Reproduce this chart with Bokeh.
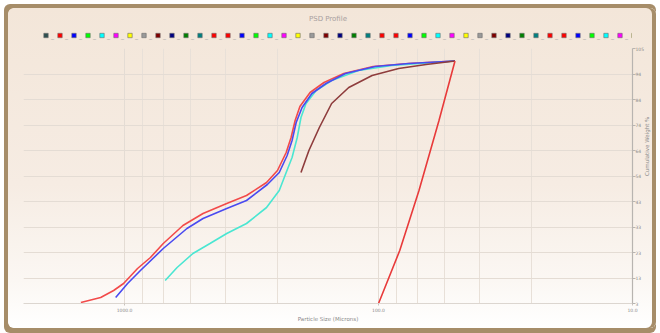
import math
from bokeh.plotting import figure
from bokeh.layouts import column
from bokeh.models import (Range1d, FixedTicker, PrintfTickFormatter, CustomJSTickFormatter,
                          Legend, LegendItem)
from bokeh.embed import file_html
from bokeh.resources import INLINE

# ---- data: particle size (microns) vs cumulative weight % ----
s1_size = [1486, 1242, 1104, 1009, 889, 791, 704, 589, 491, 396, 331, 276, 250, 231, 221, 213, 204, 186, 164, 137, 105, 76, 50]
s1_pct = [3.4, 5.4, 8.2, 11, 17, 21.4, 27, 34.2, 39, 43, 46.2, 51.4, 56.2, 63.4, 69.4, 76.2, 81.8, 87.4, 91.4, 95, 97.8, 99, 100]

s2_size = [1084, 973, 866, 704, 568, 491, 396, 331, 274, 246, 229, 219, 211, 200, 183, 161, 135, 103, 76, 50]
s2_pct = [5.4, 11, 16.2, 25, 33, 37, 41, 44.2, 50.6, 55.4, 62.2, 68.2, 75.4, 81.4, 87, 91, 95, 97.8, 99, 100]

s3_size = [692, 621, 538, 461, 396, 331, 276, 246, 231, 219, 209, 202, 193, 176, 153, 120, 88.8, 50]
s3_pct = [12.2, 17.4, 23, 27, 31, 35, 41.4, 48.2, 55.4, 61.4, 69.4, 77.4, 83, 88.2, 92.2, 96.2, 98.2, 100]

s4_size = [202, 188, 171, 153, 131, 106, 83.3, 65, 50]
s4_pct = [55.4, 64.2, 73.4, 83, 89.4, 94.2, 97, 98.6, 100]

s5_size = [50, 57.8, 69.3, 82.5, 100]
s5_pct = [100, 76.2, 48.2, 24.2, 3]

curve_colors = ["#F24A4A", "#4A4AF0", "#4AE6D2", "#8E3C3C", "#E83A3A"]

x_ticks = [1000, 100, 10]
x_minor = [850, 700, 550, 400, 250, 85, 70, 55, 40, 25]
y_ticks = [3, 13.2, 23.4, 33.6, 43.8, 54, 64.2, 74.4, 84.6, 94.8, 105]

legend_base = ["#FF0000", "#0000FF", "#00FF00", "#00FFFF", "#FF00FF", "#FFFF00",
               "#999999", "#800000", "#000080", "#008000", "#008080", "#FF0000"]
legend_colors = ["#2F4F4F"] + (legend_base * 4)[:44]

FONT = "DejaVu Sans"

# ---- header figure: title + series legend ----
hdr = figure(width=648, height=36, x_range=Range1d(0, 1), y_range=Range1d(0, 1),
             x_axis_location=None, y_axis_location=None,
             output_backend="svg", toolbar_location=None, title="PSD Profile",
             min_border_left=0, min_border_right=0, min_border_top=16, min_border_bottom=0)
hdr.border_fill_color = None
hdr.background_fill_color = None
hdr.outline_line_color = None
hdr.grid.visible = False
hdr.title.align = "center"
hdr.title.text_font = FONT
hdr.title.text_font_size = "7px"
hdr.title.text_font_style = "normal"
hdr.title.text_color = "#A8A0A0"
hdr.title.standoff = 4

items = []
nan = float("nan")
for c in legend_colors:
    r = hdr.scatter(x=[nan], y=[nan], marker="square", fill_color=c,
                    line_color="#6A6A6A", line_width=0.6)
    items.append(LegendItem(label="_", renderers=[r]))

legend = Legend(items=items, orientation="horizontal", location=(17, 3),
                ncols=len(items), nrows=1,
                glyph_width=11, glyph_height=12, label_standoff=-3, spacing=0,
                label_width=0, label_height=12, padding=0, margin=0,
                label_text_font=FONT, label_text_font_size="6px",
                label_text_color="#A0A0A0",
                background_fill_alpha=0, border_line_color=None)
hdr.add_layout(legend, "center")

# ---- main figure ----
p = figure(width=648, height=284, x_axis_type="log",
           x_range=Range1d(2500, 10), y_range=Range1d(3, 105),
           y_axis_location="right", output_backend="svg", toolbar_location=None,
           min_border_left=15, min_border_right=20, min_border_top=4, min_border_bottom=25)
p.border_fill_color = None
p.background_fill_color = None
p.outline_line_color = None

# x axis
xa = p.xaxis[0]
xa.ticker = FixedTicker(ticks=x_ticks, minor_ticks=x_minor)
xa.formatter = PrintfTickFormatter(format="%.1f")
xa.axis_label = "Particle Size (Microns)"
xa.axis_label_text_font = FONT
xa.axis_label_text_font_size = "5.5px"
xa.axis_label_text_font_style = "normal"
xa.axis_label_text_color = "#8A8A8A"
xa.axis_label_standoff = 1
xa.major_label_text_font = FONT
xa.major_label_text_font_size = "4.5px"
xa.major_label_text_color = "#8A8A8A"
xa.major_label_standoff = 0
xa.axis_line_color = "#DCD6D0"
xa.major_tick_line_color = "#C8C2BC"
xa.major_tick_out = 2
xa.major_tick_in = 0
xa.minor_tick_line_color = None

# y axis (right)
ya = p.yaxis[0]
ya.ticker = FixedTicker(ticks=y_ticks)
ya.formatter = CustomJSTickFormatter(code="return String(Math.floor(tick + 1e-9));")
ya.axis_label = "Cumulative Weight %"
ya.axis_label_text_font = FONT
ya.axis_label_text_font_size = "5.5px"
ya.axis_label_text_font_style = "normal"
ya.axis_label_text_color = "#8A8A8A"
ya.axis_label_standoff = 0
ya.major_label_text_font = FONT
ya.major_label_text_font_size = "4.5px"
ya.major_label_text_color = "#8A8A8A"
ya.major_label_standoff = 0
ya.axis_line_color = "#B8B4B0"
ya.axis_line_width = 1.2
ya.major_tick_line_color = "#B8B4B0"
ya.major_tick_out = 3
ya.major_tick_in = 0
ya.minor_tick_line_color = None
if "axis_label_orientation" in ya.properties():
    ya.axis_label_orientation = math.pi / 2

p.xgrid.grid_line_color = "#E4DCD4"
p.xgrid.minor_grid_line_color = "#E8E0D8"
p.ygrid.grid_line_color = "#E4DCD4"

# curves
p.line(s1_size, s1_pct, line_color=curve_colors[0], line_width=1.6)
p.line(s3_size, s3_pct, line_color=curve_colors[2], line_width=1.6)
p.line(s2_size, s2_pct, line_color=curve_colors[1], line_width=1.6)
p.line(s4_size, s4_pct, line_color=curve_colors[3], line_width=1.6)
p.line(s5_size, s5_pct, line_color=curve_colors[4], line_width=1.6)

frame_c = "#A68D69"
layout = column(hdr, p, spacing=0)
layout.styles = {
    "transform": "translate(8px, 8px)",
    "background": "linear-gradient(to bottom, #F3E6D9 0%, #F6ECE3 55%, #FBF7F3 85%, #FFFFFF 100%)",
    "border-radius": "6px",
    "box-shadow": (f"-4px -4px 0 0 {frame_c}, -4px 0 0 0 {frame_c}, 0 -4px 0 0 {frame_c}, "
                   f"0 5px 0 0 {frame_c}, -4px 5px 0 0 {frame_c}, inset -4px 0 0 0 {frame_c}"),
}

open("out.html", "w").write(file_html(layout, INLINE))
